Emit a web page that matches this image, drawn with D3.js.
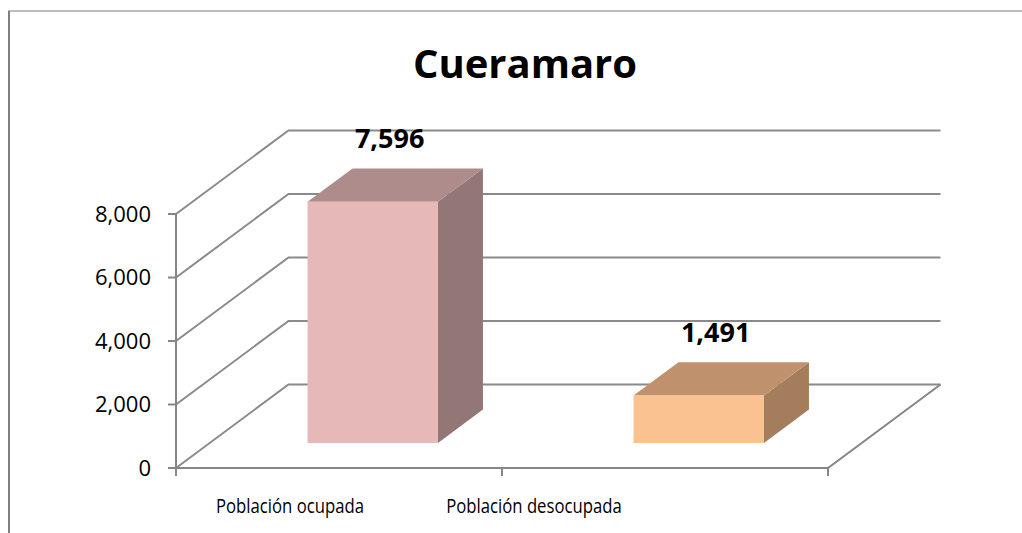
<!doctype html>
<html>

<head>
	<title> Cueramaro </title>
	<meta charset="UTF-8">
	<script src="https://d3js.org/d3.v7.min.js"></script>
	<style>
		body { margin: 0; background: white; }
		text { font-family: "Open Sans", sans-serif; }
	</style>
</head>

<body>
	<script>

		// chart data
		var categories = ["Población ocupada", "Población desocupada"];
		var values = [7596, 1491];
		var tickValues = [0, 2000, 4000, 6000, 8000];
		var frontColors = ["#e6b9b8", "#fac191"];
		var topColors = ["#ae8c8b", "#bf916c"];
		var sideColors = ["#937776", "#a47e5c"];

		var width = 1022,
			height = 533;

		// depth of the 3d box (back wall is shifted by this)
		var depth = {dx: 112.5, dy: -83.5};

		// open sans is wider than the original font, squeeze the axis labels
		var condense = 0.835;

		var svg = d3.select("body")
					.append("svg")
						.attr("width", width)
						.attr("height", height);

		//Scales for front plane
		var x = d3.scaleBand()
					.domain(categories)
					.range([176, 828])
					.paddingInner(0.6)
					.paddingOuter(0.3);

		var y = d3.scaleLinear()
					.domain([0, 8000])
					.range([468, 214]);

		// labels under the axis sit a bit left of the bars
		var labelX = d3.scalePoint()
					.domain(categories)
					.range([290, 534]);

		//project a front plane point back into depth z (0 = front, 1 = back)
		function proj(px, py, z) {
			return [px + z * depth.dx, py + z * depth.dy];
		}

		function poly(pts) {
			return pts.map(function(p) { return p.join(","); }).join(" ");
		}

		//Chart border
		svg.append("line")
			.attr("x1", 8).attr("y1", 11)
			.attr("x2", width).attr("y2", 11)
			.style("stroke", "#a6a6a6")
			.attr("stroke-width", 1.5);

		svg.append("line")
			.attr("x1", 9).attr("y1", 11)
			.attr("x2", 9).attr("y2", height)
			.style("stroke", "#7f7f7f")
			.attr("stroke-width", 2);

		//Title
		svg.append("text")
			.attr("x", 525)
			.attr("y", 78)
			.attr("font-size", 40)
			.attr("font-weight", "bold")
			.attr("fill", "black")
			.style("text-anchor", "middle")
			.text("Cueramaro");

		var grid = svg.append("g");
		var x0 = x.range()[0],
			x1 = x.range()[1];

		//Gridlines on back wall + side wall diagonals
		tickValues.forEach(function(t) {
			var a = proj(x0, y(t), 0),
				b = proj(x0, y(t), 1),
				c = proj(x1, y(t), 1);
			grid.append("polyline")
				.attr("points", poly([a, b, c]))
				.attr("fill", "none")
				.style("stroke", "#8a8a8a")
				.attr("stroke-width", 2);
		});

		//Floor: front edge and right edge
		var f0 = proj(x0, y(0), 0),
			f1 = proj(x1, y(0), 0),
			f2 = proj(x1, y(0), 1);
		grid.append("polyline")
			.attr("points", poly([f0, f1, f2]))
			.attr("fill", "none")
			.style("stroke", "#868686")
			.attr("stroke-width", 2);

		//Vertical axis
		grid.append("line")
			.attr("x1", x0).attr("y1", y(0))
			.attr("x2", x0).attr("y2", y(8000))
			.style("stroke", "#868686")
			.attr("stroke-width", 2);

		//Y ticks and labels
		tickValues.forEach(function(t) {
			grid.append("line")
				.attr("x1", x0 - 8).attr("y1", y(t))
				.attr("x2", x0).attr("y2", y(t))
				.style("stroke", "#868686")
				.attr("stroke-width", 2);
			grid.append("text")
				.attr("x", x0 - 25)
				.attr("y", y(t))
				.attr("dy", "0.36em")
				.attr("font-size", 22)
				.attr("fill", "black")
				.style("text-anchor", "end")
				.text(d3.format(",")(t));
		});

		//Category tick marks (edges and middle of the floor)
		var catTicks = [x0, (x0 + x1) / 2, x1];
		catTicks.forEach(function(cx) {
			grid.append("line")
				.attr("x1", cx).attr("y1", y(0))
				.attr("x2", cx).attr("y2", y(0) + 8)
				.style("stroke", "#868686")
				.attr("stroke-width", 2);
		});

		//Category labels
		svg.selectAll(".cat")
			.data(categories)
			.enter()
			.append("text")
				.attr("class", "cat")
				.attr("x", function(d) { return labelX(d); })
				.attr("y", 513)
				.attr("font-size", 20)
				.attr("fill", "black")
				.style("text-anchor", "middle")
				.text(function(d) { return d; })
				.each(function() {
					var len = this.getComputedTextLength();
					d3.select(this)
						.attr("textLength", len * condense)
						.attr("lengthAdjust", "spacingAndGlyphs");
				});

		//Bars as 3d boxes, sitting between z = 0.3 and z = 0.7
		var zf = 0.3, zb = 0.7;
		var bars = svg.append("g");

		categories.forEach(function(c, i) {
			var l = x(c), r = x(c) + x.bandwidth();
			var b = y(0), t = y(values[i]);

			var fl = proj(l, b, zf), fr = proj(r, b, zf),
				ftl = proj(l, t, zf), ftr = proj(r, t, zf),
				btl = proj(l, t, zb), btr = proj(r, t, zb),
				bbr = proj(r, b, zb);

			//side face
			bars.append("polygon")
				.attr("points", poly([fr, ftr, btr, bbr]))
				.attr("fill", sideColors[i]);
			//top face
			bars.append("polygon")
				.attr("points", poly([ftl, ftr, btr, btl]))
				.attr("fill", topColors[i]);
			//front face
			bars.append("polygon")
				.attr("points", poly([fl, fr, ftr, ftl]))
				.attr("fill", frontColors[i]);

			//Value label above the box
			var lp = proj((l + r) / 2, t, 0.45);
			bars.append("text")
				.attr("x", lp[0])
				.attr("y", btl[1] - 20)
				.attr("font-size", 27)
				.attr("font-weight", "bold")
				.attr("fill", "black")
				.style("text-anchor", "middle")
				.text(d3.format(",")(values[i]));
		});

	</script>
</body>
</html>
